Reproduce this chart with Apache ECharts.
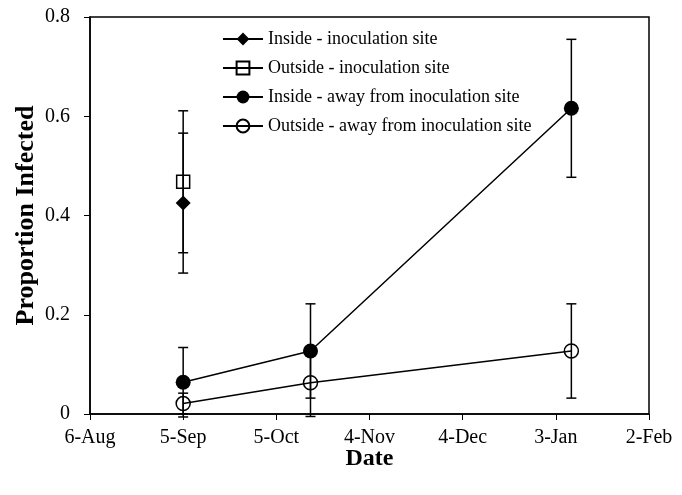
<!DOCTYPE html>
<html>
<head>
<meta charset="utf-8">
<script src="https://cdn.jsdelivr.net/npm/echarts@6/dist/echarts.min.js"></script>
<style>
  html, body { margin: 0; padding: 0; background: #fff; }
  #chart { width: 682px; height: 495px; }
</style>
</head>
<body>
<div id="chart"></div>
<script>
// x is days after 6-Aug, tick every 30 days
var tickLabels = ['6-Aug', '5-Sep', '5-Oct', '4-Nov', '4-Dec', '3-Jan', '2-Feb'];
var seriesNames = ['Inside - inoculation site', 'Outside - inoculation site',
  'Inside - away from inoculation site', 'Outside - away from inoculation site'];

var insideSiteX = [30];
var insideSiteY = [0.425];
var insideSiteErr = [0.141];

var outsideSiteX = [30];
var outsideSiteY = [0.468];
var outsideSiteErr = [0.143];

var insideAwayX = [30, 71, 155];
var insideAwayY = [0.064, 0.127, 0.616];
var insideAwayErr = [0.070, 0.095, 0.139];

var outsideAwayX = [30, 71, 155];
var outsideAwayY = [0.021, 0.063, 0.127];
var outsideAwayErr = [0.021, 0.068, 0.095];

var FONT = '"Liberation Serif", "Times New Roman", serif';

function pts(xs, ys) {
  return xs.map(function (x, i) { return [x, ys[i]]; });
}
function errData(xs, ys, es) {
  return xs.map(function (x, i) { return [x, ys[i] - es[i], ys[i] + es[i]]; });
}

function errorSeries(xs, ys, es) {
  return {
    type: 'custom',
    z: 5,
    silent: true,
    data: errData(xs, ys, es),
    encode: { x: 0, y: [1, 2] },
    renderItem: function (params, api) {
      var lo = api.coord([api.value(0), api.value(1)]);
      var hi = api.coord([api.value(0), api.value(2)]);
      var w = 5;
      var st = { stroke: '#000', lineWidth: 1.5 };
      return {
        type: 'group',
        children: [
          { type: 'line', shape: { x1: lo[0], y1: lo[1], x2: hi[0], y2: hi[1] }, style: st },
          { type: 'line', shape: { x1: lo[0] - w, y1: lo[1], x2: lo[0] + w, y2: lo[1] }, style: st },
          { type: 'line', shape: { x1: hi[0] - w, y1: hi[1], x2: hi[0] + w, y2: hi[1] }, style: st }
        ]
      };
    }
  };
}

function lineSeries(name, xs, ys, symbol, size, filled) {
  return {
    name: name,
    type: 'line',
    z: filled ? 6 : 4,
    data: pts(xs, ys),
    symbol: symbol,
    symbolSize: size,
    showAllSymbol: true,
    lineStyle: { color: '#000', width: 1.5 },
    itemStyle: filled
      ? { color: '#000', borderColor: '#000', borderWidth: 0 }
      : { color: 'rgba(255,255,255,0)', borderColor: '#000', borderWidth: 1.5 },
    emphasis: { disabled: true }
  };
}

var chart = echarts.init(document.getElementById('chart'));
chart.setOption({
  animation: false,
  textStyle: { fontFamily: FONT },
  grid: {
    left: 90, top: 17, right: 33, bottom: 81,
    show: true, borderColor: '#000', borderWidth: 1.5
  },
  legend: {
    orient: 'vertical',
    left: 217,
    top: 25,
    itemWidth: 40,
    itemHeight: 16,
    itemGap: 11,
    data: seriesNames,
    textStyle: { fontFamily: FONT, fontSize: 18, color: '#000' },
    selectedMode: false
  },
  xAxis: {
    type: 'value',
    min: 0, max: 180, interval: 30,
    name: 'Date',
    nameLocation: 'middle',
    nameGap: 33,
    nameMoveOverlap: false,
    nameTextStyle: { fontFamily: FONT, fontSize: 24, fontWeight: 'bold', color: '#000' },
    axisLine: { lineStyle: { color: '#000', width: 1.5 } },
    axisTick: { show: true, length: 6, lineStyle: { color: '#000', width: 1 } },
    axisLabel: {
      margin: 14, fontFamily: FONT, fontSize: 20, color: '#000',
      formatter: function (v) { return tickLabels[Math.round(v / 30)]; }
    },
    splitLine: { show: false }
  },
  yAxis: {
    type: 'value',
    min: 0, max: 0.8, interval: 0.2,
    name: 'Proportion Infected',
    nameLocation: 'middle',
    nameGap: 51,
    nameMoveOverlap: false,
    nameTextStyle: { fontFamily: FONT, fontSize: 26, fontWeight: 'bold', color: '#000' },
    axisLine: { show: true, lineStyle: { color: '#000', width: 1.5 } },
    axisTick: { show: true, length: 6, lineStyle: { color: '#000', width: 1 } },
    axisLabel: {
      margin: 20, fontFamily: FONT, fontSize: 20, color: '#000',
      formatter: function (v) { return v === 0 ? '0' : v.toFixed(1); }
    },
    splitLine: { show: false }
  },
  series: [
    errorSeries(insideSiteX, insideSiteY, insideSiteErr),
    errorSeries(outsideSiteX, outsideSiteY, outsideSiteErr),
    errorSeries(insideAwayX, insideAwayY, insideAwayErr),
    errorSeries(outsideAwayX, outsideAwayY, outsideAwayErr),
    lineSeries(seriesNames[0], insideSiteX, insideSiteY, 'diamond', 15, true),
    lineSeries(seriesNames[1], outsideSiteX, outsideSiteY, 'rect', 13, false),
    lineSeries(seriesNames[2], insideAwayX, insideAwayY, 'circle', 15, true),
    lineSeries(seriesNames[3], outsideAwayX, outsideAwayY, 'circle', 14, false)
  ]
});
</script>
</body>
</html>
